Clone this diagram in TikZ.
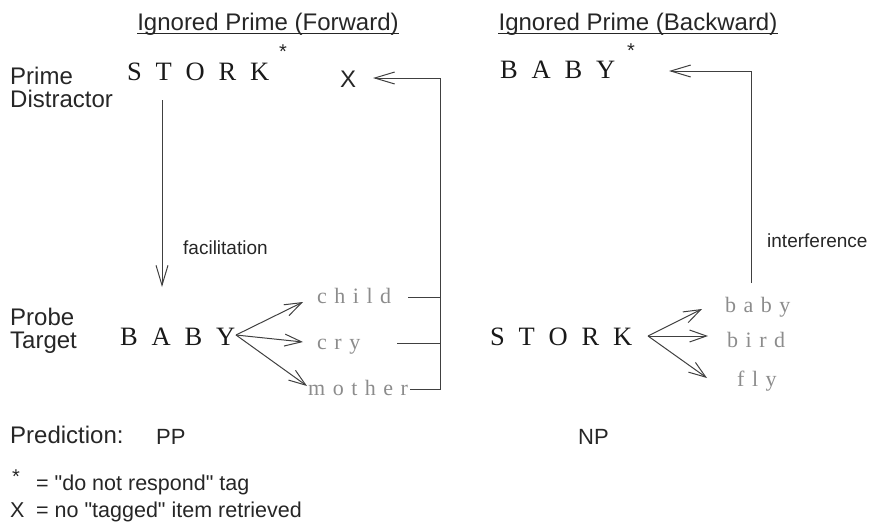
\documentclass[tikz,border=0pt]{standalone}
\usepackage{fontspec}
\setmainfont{Liberation Serif}
\newfontfamily\arialf{Liberation Sans}
\usetikzlibrary{arrows.meta}
\newcommand\lsA{\hspace{13.8pt}}
\newcommand\lsB{\hspace{7.5pt}}
\definecolor{wgrey}{HTML}{8C8C8C}
\definecolor{lgrey}{HTML}{404040}
\begin{document}
\begin{tikzpicture}[x=1pt,y=-1pt,
  lab/.style={font=\arialf\fontsize{24}{28}\selectfont, inner sep=0, anchor=base west, text=black!85},
  leg/.style={font=\arialf\fontsize{21.5}{25}\selectfont, inner sep=0, anchor=base west, text=black!85},
  pred/.style={font=\arialf\fontsize{22}{26}\selectfont, inner sep=0, anchor=base west, text=black!85},
  small/.style={font=\arialf\fontsize{19}{23}\selectfont, inner sep=0, anchor=base west, text=black!85},
  big/.style={font=\fontsize{26.5}{30}\selectfont, inner sep=0, anchor=base west, text=black!90},
  word/.style={font=\fontsize{22}{26}\selectfont, inner sep=0, anchor=base west, text=wgrey},
  tag/.style={font=\arialf\fontsize{20}{20}\selectfont, inner sep=0, text=black!85},
  ln/.style={draw=lgrey, line width=1pt},
  arr/.style={ln, -{Straight Barb[length=20pt,width=12pt,line width=1pt]}},
  farr/.style={ln, -{Straight Barb[length=17pt,width=12pt,line width=1pt]}}
]
\useasboundingbox (0,0) rectangle (870,528);

% titles
\node[lab, anchor=base] (tf) at (268,30) {Ignored Prime (Forward)};
\node[lab, anchor=base] (tb) at (638,30) {Ignored Prime (Backward)};
\draw[draw=black!85, line width=1pt] ([yshift=-3.5pt]tf.base west) -- ([yshift=-3.5pt]tf.base east);
\draw[draw=black!85, line width=1pt] ([yshift=-3.5pt]tb.base west) -- ([yshift=-3.5pt]tb.base east);

% row labels
\node[lab] (prime) at (10,84) {Prime};
\node[lab] (distr) at (10,107) {Distractor};
\node[lab] (probe) at (10,325) {Probe};
\node[lab] (target) at (10,348) {Target};

% forward
\node[big] (storkA) at (127,80) {S\lsA T\lsA O\lsA R\lsA K};
\node[tag] (starA) at (283,52) {*};
\node[lab, anchor=center] (xn) at (348,79) {X};
\node[big] (babyA) at (120,345) {B\lsA A\lsA B\lsA Y};
\node[small] (facil) at (183,254) {facilitation};
\node[word] (child) at (317,303) {c\lsB h\lsB i\lsB l\lsB d};
\node[word] (cry) at (317,349) {c\lsB r\lsB y};
\node[word] (mother) at (308,395) {m\lsB o\lsB t\lsB h\lsB e\lsB r};

\coordinate (va) at (162,100);
\coordinate (vb) at (162,287);
\draw[arr] (va) -- (vb);

\coordinate (fo) at (236,335);
\coordinate (tc) at (303,302);
\coordinate (tr) at (303,342);
\coordinate (tm) at (307,386);
\draw[farr] (fo) -- (tc);
\draw[farr] (fo) -- (tr);
\draw[farr] (fo) -- (tm);

\coordinate (lc) at (408,297);
\coordinate (lr) at (397,343);
\coordinate (lm) at (410,389);
\coordinate (ka) at (440,389);
\coordinate (kb) at (440,78);
\coordinate (xt) at (373,78);
\draw[arr] (lm) -- (ka) -- (kb) -- (xt);
\draw[ln] (lc) -- (lc -| ka);
\draw[ln] (lr) -- (lr -| ka);

% backward
\node[big] (babyB) at (500,78) {B\lsA A\lsA B\lsA Y};
\node[tag] (starB) at (631,51) {*};
\node[big] (storkB) at (490,345) {S\lsA T\lsA O\lsA R\lsA K};
\node[small] (interf) at (767,247) {interference};
\node[word] (baby) at (725,312) {b\lsB a\lsB b\lsB y};
\node[word] (bird) at (727,347) {b\lsB i\lsB r\lsB d};
\node[word] (fly) at (737,386) {f\lsB l\lsB y};

\coordinate (go) at (648,336);
\coordinate (gb) at (702,309);
\coordinate (gi) at (708,336);
\coordinate (gf) at (707,378);
\draw[farr] (go) -- (gb);
\draw[farr] (go) -- (gi);
\draw[farr] (go) -- (gf);

\coordinate (ra) at (751,283);
\coordinate (rb) at (751,71);
\coordinate (rt) at (669,71);
\draw[arr] (ra) -- (rb) -- (rt);

% prediction
\node[lab] (pred) at (10,443) {Prediction:};
\node[pred] (pp) at (156,444) {PP};
\node[pred] (np) at (578,444) {NP};

% legend
\node[tag] (lstar) at (16,477) {*};
\node[leg] (leg1) at (36,490) {= "do not respond" tag};
\node[leg] (lx) at (10,517) {X};
\node[leg] (leg2) at (36,517) {= no "tagged" item retrieved};
\end{tikzpicture}
\end{document}
